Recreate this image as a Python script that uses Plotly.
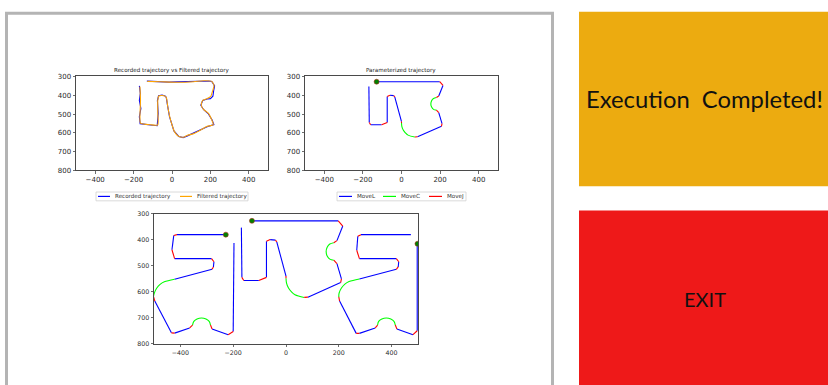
import plotly.graph_objects as go

W, H = 828, 385

# ---------------- data ----------------
# Recorded vs filtered trajectory (top-left)
REC_X = [-131, -95, -60, -15, 26, 70, 112, 140, 164, 190, 207, 222, 217, 213, 200, 183, 160, 150,
         165, 188, 209, 218, 183, 147, 112, 80, 58, 35, 10, -2, -13, -22, -30, -36, -52, -70,
         -76, -72, -77, -112, -166, -170, -162, -170, -165, -170]
REC_Y = [325, 327, 330, 330, 329, 327, 327, 325, 322, 324, 327, 350, 376, 405, 418, 420, 428, 453,
         477, 497, 532, 556, 568, 585, 605, 616, 625, 619, 590, 556, 514, 462, 411, 404, 399, 403,
         428, 497, 562, 558, 551, 515, 470, 428, 390, 350]
FILT_X = [-129, -60, 26, 112, 164, 207, 219, 212, 202, 181, 160, 152, 164, 190, 207, 215, 181, 147,
          112, 78, 60, 34, 12, 0, -12, -22, -29, -34, -52, -69, -74, -74, -74, -112, -164, -167,
          -164, -167]
FILT_Y = [326, 328, 331, 328, 323, 326, 348, 375, 406, 418, 427, 453, 475, 496, 531, 557, 566, 586,
          604, 614, 623, 618, 592, 557, 513, 461, 413, 406, 401, 404, 427, 496, 557, 557, 548, 513,
          427, 354]

# Parameterized trajectory (segments)
PARAM_MOVEL = [
    [(-129, 328), (198, 328)], [(215, 348), (193, 404)], [(193, 492), (210, 551)],
    [(207, 565), (83, 621)], [(0, 540), (-35, 409)], [(-40, 402), (-60, 400)],
    [(-74, 406), (-74, 545)], [(-103, 557), (-160, 557)], [(-167, 545), (-169, 354)],
]
PARAM_MOVEJ = [
    [(198, 328), (215, 348)], [(193, 404), (181, 412)], [(181, 479), (193, 492)],
    [(210, 551), (207, 565)], [(83, 621), (69, 622)], [(0, 548), (0, 540)],
    [(-35, 409), (-40, 402)], [(-60, 400), (-74, 406)], [(-74, 545), (-103, 557)],
    [(-160, 557), (-167, 545)],
]
PARAM_MOVEC = [
    [(181, 412), (166, 417), (156, 429), (152, 446), (156, 463), (166, 475), (181, 479)],
    [(69, 622), (34, 612), (20, 600), (9, 585), (2, 567), (0, 548)],
]
PARAM_START = [(-129, 328)]

# Left copy (bottom chart)
LEFT_MOVEL = [
    [(-228, 381), (-413, 381)], [(-425, 384), (-432, 439)], [(-422, 473), (-282, 473)],
    [(-273, 485), (-275, 505)], [(-280, 514), (-422, 552)], [(-497, 636), (-434, 758)],
    [(-422, 759), (-365, 739)], [(-280, 743), (-219, 765)], [(-200, 753), (-197, 413)],
]
LEFT_MOVEJ = [
    [(-413, 381), (-425, 384)], [(-432, 439), (-422, 473)], [(-282, 473), (-273, 485)],
    [(-275, 505), (-280, 514)], [(-502, 618), (-497, 636)], [(-434, 758), (-422, 759)],
    [(-365, 739), (-354, 728)], [(-286, 728), (-280, 743)], [(-219, 765), (-200, 753)],
]
LEFT_MOVEC = [
    [(-422, 552), (-461, 562), (-477, 572), (-490, 587), (-499, 606), (-502, 618)],
    [(-354, 728), (-349, 714), (-337, 705), (-320, 701), (-303, 705), (-291, 714), (-286, 728)],
]
LEFT_START = [(-228, 381)]

# Right copy (bottom chart)
RIGHT_MOVEL = [
    [(473, 381), (284, 381)], [(272, 387), (268, 441)], [(278, 473), (418, 473)],
    [(427, 485), (425, 505)], [(418, 514), (278, 551)], [(203, 636), (266, 760)],
    [(278, 760), (338, 739)], [(420, 743), (481, 765)], [(497, 750), (497, 416)],
]
RIGHT_MOVEJ = [
    [(284, 381), (272, 387)], [(268, 441), (278, 473)], [(418, 473), (427, 485)],
    [(425, 505), (418, 514)], [(200, 620), (203, 636)], [(266, 760), (278, 760)],
    [(338, 739), (347, 728)], [(414, 728), (420, 743)], [(481, 765), (497, 750)],
]
RIGHT_MOVEC = [
    [(278, 551), (239, 561), (223, 571), (210, 586), (201, 606), (200, 620)],
    [(347, 728), (351, 714), (363, 705), (380, 701), (397, 705), (409, 714), (414, 728)],
]
RIGHT_START = [(498, 416)]

X_TICKS = [-400, -200, 0, 200, 400]
Y_TICKS = [300, 400, 500, 600, 700, 800]

BLUE, ORANGE, LIME, RED, DGREEN = "#0000ff", "#ffa500", "#00ff00", "#ff0000", "#008000"


def px(x):
    return x / W


def py(y):
    return 1 - y / H


def flat(segs):
    xs, ys = [], []
    for s in segs:
        for (a, b) in s:
            xs.append(a)
            ys.append(b)
        xs.append(None)
        ys.append(None)
    return xs, ys


fig = go.Figure()


def lines(segs, color, ax, smooth=False):
    xs, ys = flat(segs)
    fig.add_trace(go.Scatter(x=xs, y=ys, mode="lines", xaxis="x" + ax, yaxis="y" + ax,
                             line=dict(color=color, width=1.1,
                                       shape="spline" if smooth else "linear"),
                             hoverinfo="skip", showlegend=False, connectgaps=False))


def dots(pts, ax):
    fig.add_trace(go.Scatter(x=[p[0] for p in pts], y=[p[1] for p in pts], mode="markers",
                             xaxis="x" + ax, yaxis="y" + ax, cliponaxis=True,
                             marker=dict(color=DGREEN, size=5, line=dict(color="#b03020", width=0.6)),
                             hoverinfo="skip", showlegend=False))


# top-left
fig.add_trace(go.Scatter(x=REC_X, y=REC_Y, mode="lines", xaxis="x", yaxis="y",
                         line=dict(color=BLUE, width=1.1), hoverinfo="skip", showlegend=False))
fig.add_trace(go.Scatter(x=FILT_X, y=FILT_Y, mode="lines", xaxis="x", yaxis="y",
                         line=dict(color=ORANGE, width=1.1, shape="spline", smoothing=0.6),
                         hoverinfo="skip", showlegend=False))

# top-right
lines(PARAM_MOVEL, BLUE, "2")
lines(PARAM_MOVEC, LIME, "2", smooth=True)
lines(PARAM_MOVEJ, RED, "2")
dots(PARAM_START, "2")

# bottom
for L, C, J, S in [(LEFT_MOVEL, LEFT_MOVEC, LEFT_MOVEJ, LEFT_START),
                   (PARAM_MOVEL, PARAM_MOVEC, PARAM_MOVEJ, PARAM_START),
                   (RIGHT_MOVEL, RIGHT_MOVEC, RIGHT_MOVEJ, RIGHT_START)]:
    lines(L, BLUE, "3")
    lines(C, LIME, "3", smooth=True)
    lines(J, RED, "3")
    dots(S, "3")

AX_COL = "#4a4a4a"


def xax(dom, anchor, fs):
    return dict(domain=dom, anchor=anchor, range=[-500, 500], tickvals=X_TICKS,
                showgrid=False, zeroline=False, showline=True, mirror=True,
                linecolor=AX_COL, linewidth=1, ticks="outside", ticklen=2.5, tickwidth=0.8,
                tickcolor=AX_COL, tickfont=dict(family="DejaVu Sans", size=fs, color="#2a2a2a"),
                fixedrange=True)


def yax(dom, anchor, fs):
    return dict(domain=dom, anchor=anchor, range=[800, 300], tickvals=Y_TICKS,
                showgrid=False, zeroline=False, showline=True, mirror=True,
                linecolor=AX_COL, linewidth=1, ticks="outside", ticklen=2.5, tickwidth=0.8,
                tickcolor=AX_COL, tickfont=dict(family="DejaVu Sans", size=fs, color="#2a2a2a"),
                fixedrange=True)


shapes = []
annotations = []

# outer gray frame
shapes.append(dict(type="rect", xref="paper", yref="paper", x0=px(6.5), x1=px(552.5),
                   y0=py(420), y1=py(9.5), line=dict(color="#b4b4b4", width=3),
                   fillcolor="rgba(0,0,0,0)"))
# buttons
shapes.append(dict(type="rect", xref="paper", yref="paper", x0=px(579), x1=px(830),
                   y0=py(186), y1=py(8), line=dict(width=0), fillcolor="#ecab10"))
shapes.append(dict(type="rect", xref="paper", yref="paper", x0=px(579), x1=px(830),
                   y0=py(390), y1=py(211), line=dict(width=0), fillcolor="#ee1919"))

annotations.append(dict(text="Execution  Completed!", xref="paper", yref="paper", x=px(704),
                        y=py(97), xanchor="center", yanchor="middle", showarrow=False,
                        font=dict(family="Lato", size=23.8, color="#111")))
annotations.append(dict(text="EXIT", xref="paper", yref="paper", x=px(704.5), y=py(301),
                        xanchor="center", yanchor="middle", showarrow=False,
                        font=dict(family="Lato", size=20, color="#111")))

# titles
for t, cx in [("Recorded trajectory vs Filtered trajectory", 172),
              ("Parameterized trajectory", 401)]:
    annotations.append(dict(text=t, xref="paper", yref="paper", x=px(cx), y=py(68),
                            xanchor="center", yanchor="middle", showarrow=False,
                            font=dict(family="DejaVu Sans", size=5.6, color="#222")))

# legends
def legend_box(x0, x1, items):
    shapes.append(dict(type="rect", xref="paper", yref="paper", x0=px(x0), x1=px(x1),
                       y0=py(201), y1=py(192), line=dict(color="#d0d0d0", width=0.8),
                       fillcolor="white"))
    for (lx0, lx1, col, label) in items:
        shapes.append(dict(type="line", xref="paper", yref="paper", x0=px(lx0), x1=px(lx1),
                           y0=py(196.5), y1=py(196.5), line=dict(color=col, width=1.2)))
        annotations.append(dict(text=label, xref="paper", yref="paper", x=px(lx1 + 3),
                                y=py(196.5), xanchor="left", yanchor="middle", showarrow=False,
                                font=dict(family="DejaVu Sans", size=5.6, color="#333")))


legend_box(96, 248, [(98, 110, BLUE, "Recorded trajectory"),
                     (180, 192, ORANGE, "Filtered trajectory")])
legend_box(337, 466, [(339, 352, BLUE, "MoveL"), (383, 396, LIME, "MoveC"),
                      (429, 442, RED, "MoveJ")])

fig.update_layout(
    width=W, height=H, margin=dict(l=0, r=0, t=0, b=0),
    paper_bgcolor="white", plot_bgcolor="white", showlegend=False,
    xaxis=xax([px(76), px(268)], "y", 7),
    yaxis=yax([py(170), py(74)], "x", 7),
    xaxis2=xax([px(305), px(498)], "y2", 7),
    yaxis2=yax([py(170), py(74)], "x2", 7),
    xaxis3=xax([px(154), px(418)], "y3", 6.3),
    yaxis3=yax([py(347), py(214)], "x3", 6.3),
    shapes=shapes, annotations=annotations,
)

fig.write_html(
    "out.html",
    config={"displayModeBar": False, "staticPlot": True},
    post_script="document.body.style.margin='0';document.body.style.overflow='hidden';",
)
